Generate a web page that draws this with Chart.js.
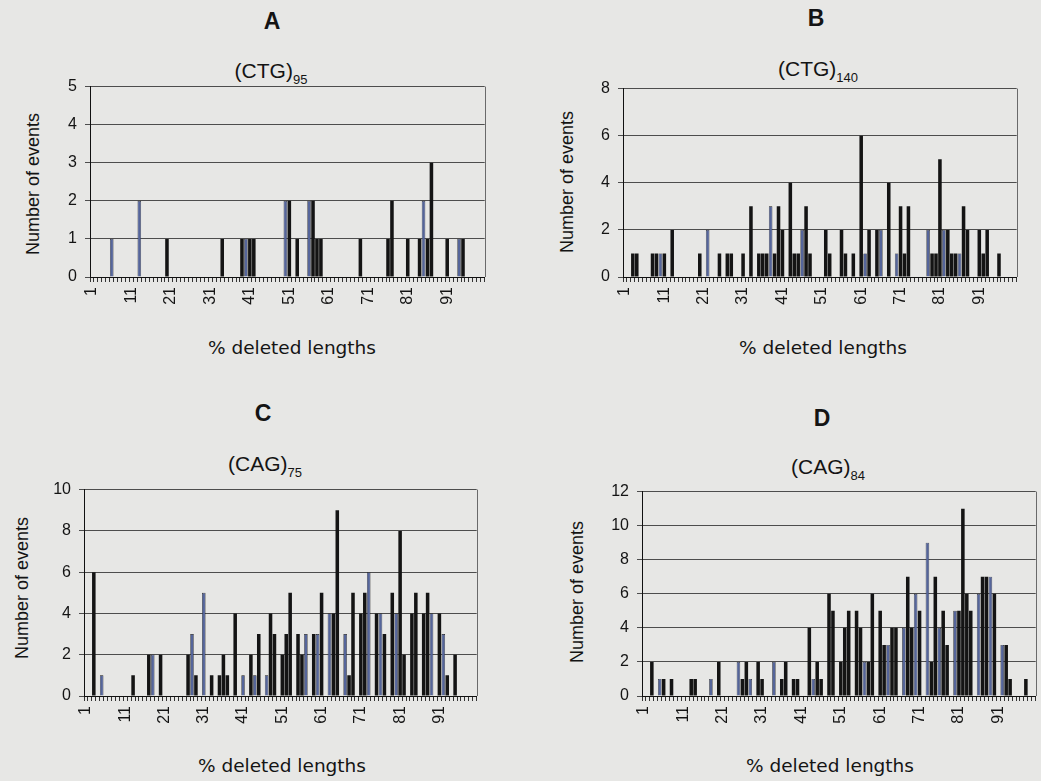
<!DOCTYPE html>
<html><head><meta charset="utf-8">
<script src="https://cdn.jsdelivr.net/npm/chart.js@4.4.1/dist/chart.umd.min.js"></script>
<style>
html,body{margin:0;padding:0;background:#e7e7e5;width:1041px;height:781px;overflow:hidden;position:relative;font-family:"Liberation Sans",Arial,sans-serif;color:#141414}
.letter{position:absolute;font-weight:bold;font-size:23px;transform:translate(-50%,-50%);line-height:1}
.sub{position:absolute;font-size:21px;transform:translate(-50%,-50%);white-space:nowrap;line-height:1}
.sub span{font-size:13px;position:relative;top:6px}
.ytitle{position:absolute;font-size:18px;transform:translate(-50%,-50%) rotate(-90deg);white-space:nowrap;line-height:1}
.xtitle{position:absolute;font-family:"DejaVu Sans",sans-serif;font-size:18.5px;transform:translate(-50%,-50%);white-space:nowrap;line-height:1}
canvas{position:absolute}
</style></head>
<body>
<div class="letter" style="left:272px;top:21px">A</div>
<div class="sub" style="left:271px;top:70px">(CTG)<span>95</span></div>
<div class="ytitle" style="left:33px;top:184px">Number of events</div>
<div class="xtitle" style="left:292px;top:348px">% deleted lengths</div>

<div class="letter" style="left:816px;top:18px">B</div>
<div class="sub" style="left:818px;top:68px">(CTG)<span>140</span></div>
<div class="ytitle" style="left:567px;top:182px">Number of events</div>
<div class="xtitle" style="left:823px;top:348px">% deleted lengths</div>

<div class="letter" style="left:263px;top:413px">C</div>
<div class="sub" style="left:265px;top:463px">(CAG)<span>75</span></div>
<div class="ytitle" style="left:22px;top:588px">Number of events</div>
<div class="xtitle" style="left:282px;top:766px">% deleted lengths</div>

<div class="letter" style="left:822px;top:418px">D</div>
<div class="sub" style="left:828px;top:466px">(CAG)<span>84</span></div>
<div class="ytitle" style="left:577px;top:592px">Number of events</div>
<div class="xtitle" style="left:830px;top:766px">% deleted lengths</div>

<canvas id="cA"></canvas>
<canvas id="cB"></canvas>
<canvas id="cC"></canvas>
<canvas id="cD"></canvas>
<script>
// categories: % deleted length classes 1..100
const categories = Array.from({length:100}, (_, i) => String(i + 1));
const tickEvery = 10;

// counts per category (index 0 = category 1)
const countsA = [
0,0,0,0,0,1,0,0,0,0, 0,0,2,0,0,0,0,0,0,1, 0,0,0,0,0,0,0,0,0,0, 0,0,0,1,0,0,0,0,1,1,
1,1,0,0,0,0,0,0,0,2, 2,0,1,0,0,2,2,1,1,0, 0,0,0,0,0,0,0,0,1,0, 0,0,0,0,0,1,2,0,0,0,
1,0,0,1,2,1,3,0,0,0, 1,0,0,1,1,0,0,0,0,0];
const countsB = [
0,0,1,1,0,0,0,1,1,1, 1,0,2,0,0,0,0,0,0,1, 0,2,0,0,1,0,1,1,0,0, 1,0,3,0,1,1,1,3,1,3,
2,0,4,1,1,2,3,1,0,0, 0,2,1,0,0,2,1,0,1,0, 6,1,2,0,2,2,0,4,0,1, 3,1,3,0,0,0,0,2,1,1,
5,2,2,1,1,1,3,2,0,0, 2,1,2,0,0,1,0,0,0,0];
const countsC = [
0,0,6,0,1,0,0,0,0,0, 0,0,1,0,0,0,2,2,0,2, 0,0,0,0,0,0,2,3,1,0, 5,0,1,0,1,2,1,0,4,0,
1,0,2,1,3,0,1,4,3,0, 2,3,5,0,3,2,3,0,3,3, 5,0,4,4,9,0,3,1,5,0, 4,5,6,0,4,4,3,0,5,4,
8,2,0,4,5,0,4,5,4,0, 4,3,1,0,2,0,0,0,0,0];
const countsD = [
0,0,2,0,1,1,0,1,0,0, 0,0,1,1,0,0,0,1,0,2, 0,0,0,0,2,1,2,1,0,2, 1,0,0,2,0,1,2,0,1,1,
0,0,4,1,2,1,0,6,5,0, 2,4,5,0,5,4,2,2,6,0, 5,3,3,4,4,0,4,7,4,6, 5,0,9,2,7,4,5,3,0,5,
5,11,6,5,0,6,7,7,7,6, 0,3,3,1,0,0,0,1,0,0];

// categories whose bars appear blue-grey in the original
const blueA = [6,13,40,50,56,85,94];
const blueB = [10,22,38,46,62,66,70,78,82,86];
const blueC = [5,18,28,31,41,44,47,57,60,63,67,73,76,80,89,92];
const blueD = [5,18,25,28,34,44,57,63,67,70,73,76,80,86,89,92];

const yMaxA = 5, yStepA = 1;
const yMaxB = 8, yStepB = 2;
const yMaxC = 10, yStepC = 2;
const yMaxD = 12, yStepD = 2;

const frame = {
  id: 'frame',
  afterDraw(c) {
    const a = c.chartArea, x = c.ctx;
    x.save();
    x.strokeStyle = '#6a6a6a';
    x.lineWidth = 1;
    x.beginPath();
    x.moveTo(Math.round(a.right) + 0.5, a.top);
    x.lineTo(Math.round(a.right) + 0.5, a.bottom);
    x.stroke();
    x.restore();
  }
};

const Y_W = 60, X_H = 50, PAD_T = 12, PAD_R = 12;

function makeChart(id, rect, counts, blue, yMax, yStep) {
  const cv = document.getElementById(id);
  const w = rect.r - rect.l + Y_W + PAD_R;
  const h = rect.b - rect.t + PAD_T + X_H;
  cv.width = w; cv.height = h;
  cv.style.left = (rect.l - Y_W) + 'px';
  cv.style.top = (rect.t - PAD_T) + 'px';
  cv.style.width = w + 'px'; cv.style.height = h + 'px';
  new Chart(cv, {
    type: 'bar',
    data: {
      labels: categories,
      datasets: [{
        data: counts,
        backgroundColor: ctx => blue.includes(ctx.index + 1) ? '#55659a' : '#141414',
        borderColor: '#141414',
        borderWidth: ctx => blue.includes(ctx.index + 1) ? {left:0.6, right:0.6, top:0.6, bottom:0} : 0,
        categoryPercentage: 1.0,
        barPercentage: 0.9
      }]
    },
    options: {
      responsive: false,
      animation: false,
      devicePixelRatio: 1,
      layout: { padding: { top: PAD_T, right: PAD_R, left: 0, bottom: 0 } },
      plugins: { legend: { display: false }, tooltip: { enabled: false } },
      scales: {
        x: {
          afterFit: s => { s.height = X_H; },
          grid: { display: true, drawOnChartArea: false, drawTicks: true, tickLength: 5, color: '#333', offset: true },
          border: { display: true, color: '#111', width: 1 },
          ticks: {
            autoSkip: false, minRotation: 90, maxRotation: 90, padding: 5,
            color: '#141414', font: { family: '"Liberation Sans", Arial, sans-serif', size: 16 },
            callback: (v, i) => (i % tickEvery === 0 ? categories[i] : '')
          }
        },
        y: {
          min: 0, max: yMax,
          afterFit: s => { s.width = Y_W; },
          grid: { color: '#4d4d4d', lineWidth: 1, drawTicks: true, tickLength: 5 },
          border: { display: true, color: '#111', width: 1 },
          ticks: {
            stepSize: yStep, padding: 8, color: '#141414',
            font: { family: '"Liberation Sans", Arial, sans-serif', size: 16 }
          }
        }
      }
    },
    plugins: [frame]
  });
}

makeChart('cA', {l:90, t:81, r:495, b:277}, countsA, blueA, yMaxA, yStepA);
makeChart('cB', {l:623, t:83, r:1027, b:277}, countsB, blueB, yMaxB, yStepB);
makeChart('cC', {l:84, t:484, r:487, b:696}, countsC, blueC, yMaxC, yStepC);
makeChart('cD', {l:642, t:486, r:1046, b:696}, countsD, blueD, yMaxD, yStepD);
</script>
</body></html>
